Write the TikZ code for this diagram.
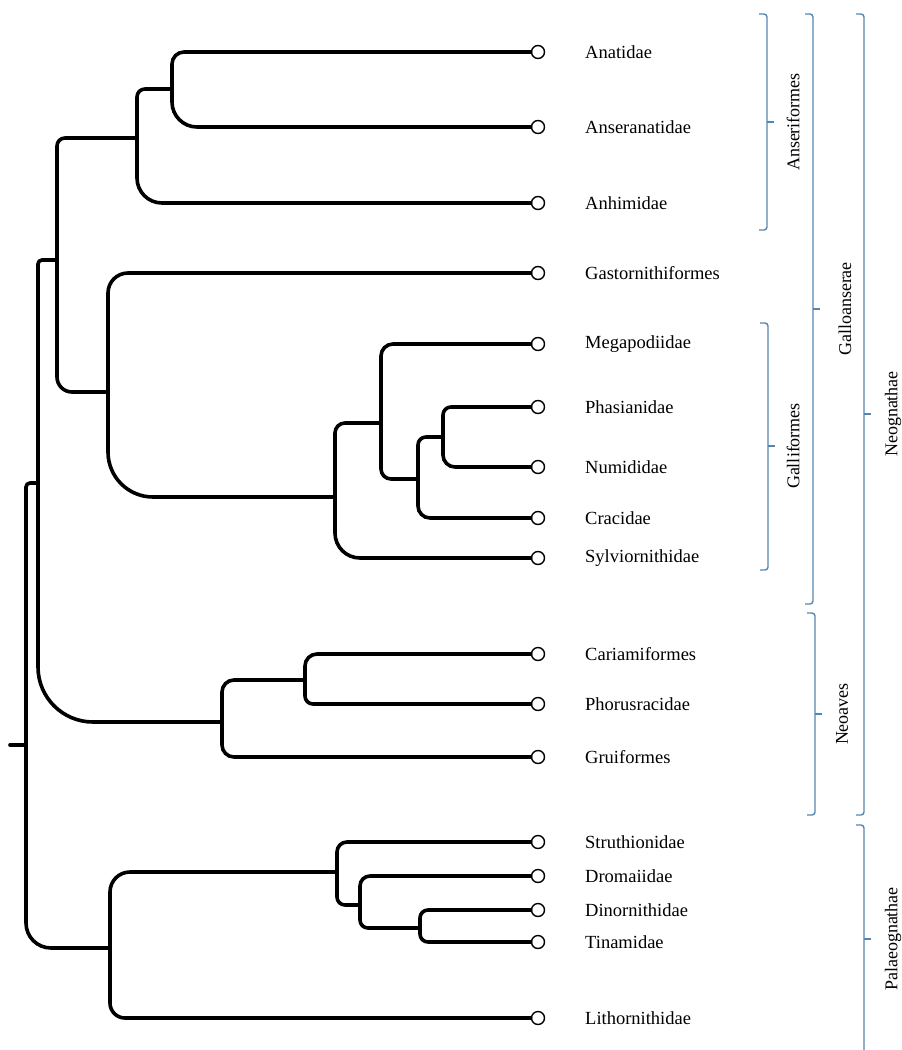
\documentclass[tikz,border=0pt]{standalone}
\usepackage{fontspec}
\setmainfont{Liberation Serif}
\definecolor{bracketblue}{RGB}{84,134,178}
\begin{document}
\begin{tikzpicture}[x=1pt,y=-1pt,
  branch/.style={line width=3.6pt, line cap=round, black},
  leaf/.style={circle, draw=black, line width=1.4pt, fill=white, minimum size=13pt, inner sep=0pt},
  leaflabel/.style={anchor=west, inner sep=0pt, font=\fontsize{18.5}{20}\selectfont},
  grouplabel/.style={rotate=90, inner sep=0pt, font=\fontsize{18}{20}\selectfont},
  bracket/.style={draw=bracketblue, line width=1.4pt, rounded corners=3pt}]
\useasboundingbox (0,0) rectangle (902,1050);

% leaves
\foreach \n/\y in {Anatidae/52, Anseranatidae/127, Anhimidae/203, Gastornithiformes/273,
  Megapodiidae/344, Phasianidae/407, Numididae/467, Cracidae/518, Sylviornithidae/558,
  Cariamiformes/654, Phorusracidae/704, Gruiformes/757, Struthionidae/842, Dromaiidae/876,
  Dinornithidae/910, Tinamidae/942, Lithornithidae/1018}{
  \node[leaf] (\n) at (538,\y) {};
  \node[leaflabel] (t\n) at (585,\y) {\n};
}

% internal nodes (x of bar, y of join)
\coordinate (root) at (10,745);
\coordinate (n0) at (26,745);
\coordinate (n1) at (38,483);
\coordinate (n2) at (57,260);
\coordinate (nAns) at (137,138);
\coordinate (nAA) at (172,89);
\coordinate (nGG) at (108,392);
\coordinate (nGal) at (335,497);
\coordinate (nG2) at (381,423);
\coordinate (nG3) at (418,479);
\coordinate (nG4) at (443,437);
\coordinate (nNeo) at (222,722);
\coordinate (nCP) at (305,680);
\coordinate (nPal) at (110,948);
\coordinate (nS) at (337,872);
\coordinate (nD) at (360,905);
\coordinate (nT) at (420,928);

\draw[branch] (root) -- (n0);
\draw[branch, rounded corners=4pt] (n0) |- (n1);
\draw[branch, rounded corners=25pt] (n0) |- (nPal);
\draw[branch, rounded corners=4pt] (n1) |- (n2);
\draw[branch, rounded corners=55pt] (n1) |- (nNeo);
\draw[branch, rounded corners=8pt] (n2) |- (nAns);
\draw[branch, rounded corners=15pt] (n2) |- (nGG);
\draw[branch, rounded corners=8pt] (nAns) |- (nAA);
\draw[branch, rounded corners=25pt] (nAns) |- (Anhimidae.west);
\draw[branch, rounded corners=12pt] (nAA) |- (Anatidae.west);
\draw[branch, rounded corners=25pt] (nAA) |- (Anseranatidae.west);
\draw[branch, rounded corners=20pt] (nGG) |- (Gastornithiformes.west);
\draw[branch, rounded corners=45pt] (nGG) |- (nGal);
\draw[branch, rounded corners=10pt] (nGal) |- (nG2);
\draw[branch, rounded corners=25pt] (nGal) |- (Sylviornithidae.west);
\draw[branch, rounded corners=12pt] (nG2) |- (Megapodiidae.west);
\draw[branch, rounded corners=10pt] (nG2) |- (nG3);
\draw[branch, rounded corners=8pt] (nG3) |- (nG4);
\draw[branch, rounded corners=12pt] (nG3) |- (Cracidae.west);
\draw[branch, rounded corners=8pt] (nG4) |- (Phasianidae.west);
\draw[branch, rounded corners=12pt] (nG4) |- (Numididae.west);
\draw[branch, rounded corners=12pt] (nNeo) |- (nCP);
\draw[branch, rounded corners=12pt] (nNeo) |- (Gruiformes.west);
\draw[branch, rounded corners=12pt] (nCP) |- (Cariamiformes.west);
\draw[branch, rounded corners=8pt] (nCP) |- (Phorusracidae.west);
\draw[branch, rounded corners=20pt] (nPal) |- (nS);
\draw[branch, rounded corners=15pt] (nPal) |- (Lithornithidae.west);
\draw[branch, rounded corners=10pt] (nS) |- (Struthionidae.west);
\draw[branch, rounded corners=8pt] (nS) |- (nD);
\draw[branch, rounded corners=10pt] (nD) |- (Dromaiidae.west);
\draw[branch, rounded corners=8pt] (nD) |- (nT);
\draw[branch, rounded corners=8pt] (nT) |- (Dinornithidae.west);
\draw[branch, rounded corners=8pt] (nT) |- (Tinamidae.west);

% brackets
\draw[bracket] (759,14) -| (767,230) -- (759,230);
\draw[bracket] (767,122) -- (774,122);
\node[grouplabel] (gAnseriformes) at (793,122) {Anseriformes};

\draw[bracket] (760,323) -| (768,570) -- (760,570);
\draw[bracket] (768,446) -- (775,446);
\node[grouplabel] (gGalliformes) at (793,446) {Galliformes};

\draw[bracket] (805,14) -| (813,604) -- (805,604);
\draw[bracket] (813,309) -- (820,309);
\node[grouplabel] (gGalloanserae) at (845,309) {Galloanserae};

\draw[bracket] (807,613) -| (815,815) -- (807,815);
\draw[bracket] (815,714) -- (822,714);
\node[grouplabel] (gNeoaves) at (842,714) {Neoaves};

\draw[bracket] (856,14) -| (864,815) -- (856,815);
\draw[bracket] (864,414) -- (871,414);
\node[grouplabel] (gNeognathae) at (893,414) {Neognathae};

\draw[bracket] (856,825) -| (864,1060);
\draw[bracket] (864,939) -- (871,939);
\node[grouplabel] (gPalaeognathae) at (893,939) {Palaeognathae};
\end{tikzpicture}
\end{document}
